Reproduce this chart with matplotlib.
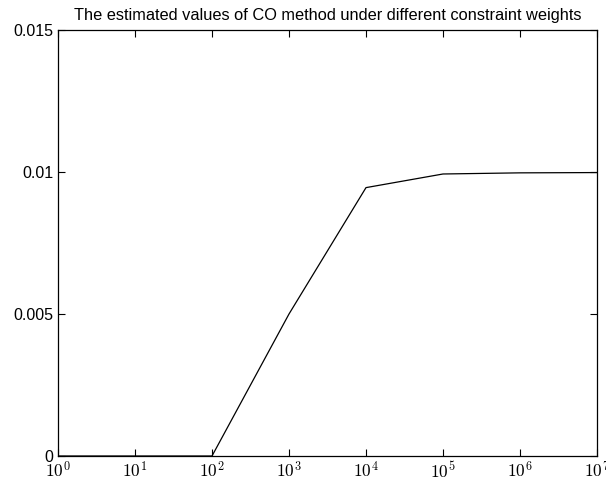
import numpy as np
import matplotlib
matplotlib.use('Agg')
import matplotlib.pyplot as plt
from matplotlib.ticker import NullLocator, FixedLocator

# constraint weights and CO estimates
weights = [1e0, 1e1, 1e2, 1e3, 1e4, 1e5, 1e6, 1e7]
estimates = [0.0, 0.0, 0.0, 0.005, 0.00945, 0.00993, 0.00997, 0.00998]
yticks = [0, 0.005, 0.01, 0.015]
ytick_labels = ['0', '0.005', '0.01', '0.015']

plt.rcParams['font.family'] = ['Liberation Sans', 'DejaVu Sans']
plt.rcParams['mathtext.fontset'] = 'cm'

fig = plt.figure(figsize=(6.06, 4.83), dpi=100)
ax = fig.add_axes([58/606, 1 - 456/483, (597-58)/606, (456-30)/483])

ax.plot(weights, estimates, color='black', linewidth=0.9)
ax.set_xscale('log')
ax.set_xlim(1e0, 1e7)
ax.set_ylim(0, 0.015)

ax.xaxis.set_major_locator(FixedLocator(weights))
ax.xaxis.set_minor_locator(NullLocator())
ax.set_xticklabels([r'$10^{%d}$' % i for i in range(8)])
ax.set_yticks(yticks)
ax.set_yticklabels(ytick_labels)

ax.tick_params(direction='in', length=5, width=0.8, top=True, right=True, pad=3.5)
ax.tick_params(axis='x', labelsize=12.5, pad=3)
ax.tick_params(axis='y', labelsize=11.5)
for s in ax.spines.values():
    s.set_linewidth(0.9)

ax.set_title('The estimated values of CO method under different constraint weights',
             fontsize=11.8, pad=7)

fig.savefig('out.png', dpi=100)
